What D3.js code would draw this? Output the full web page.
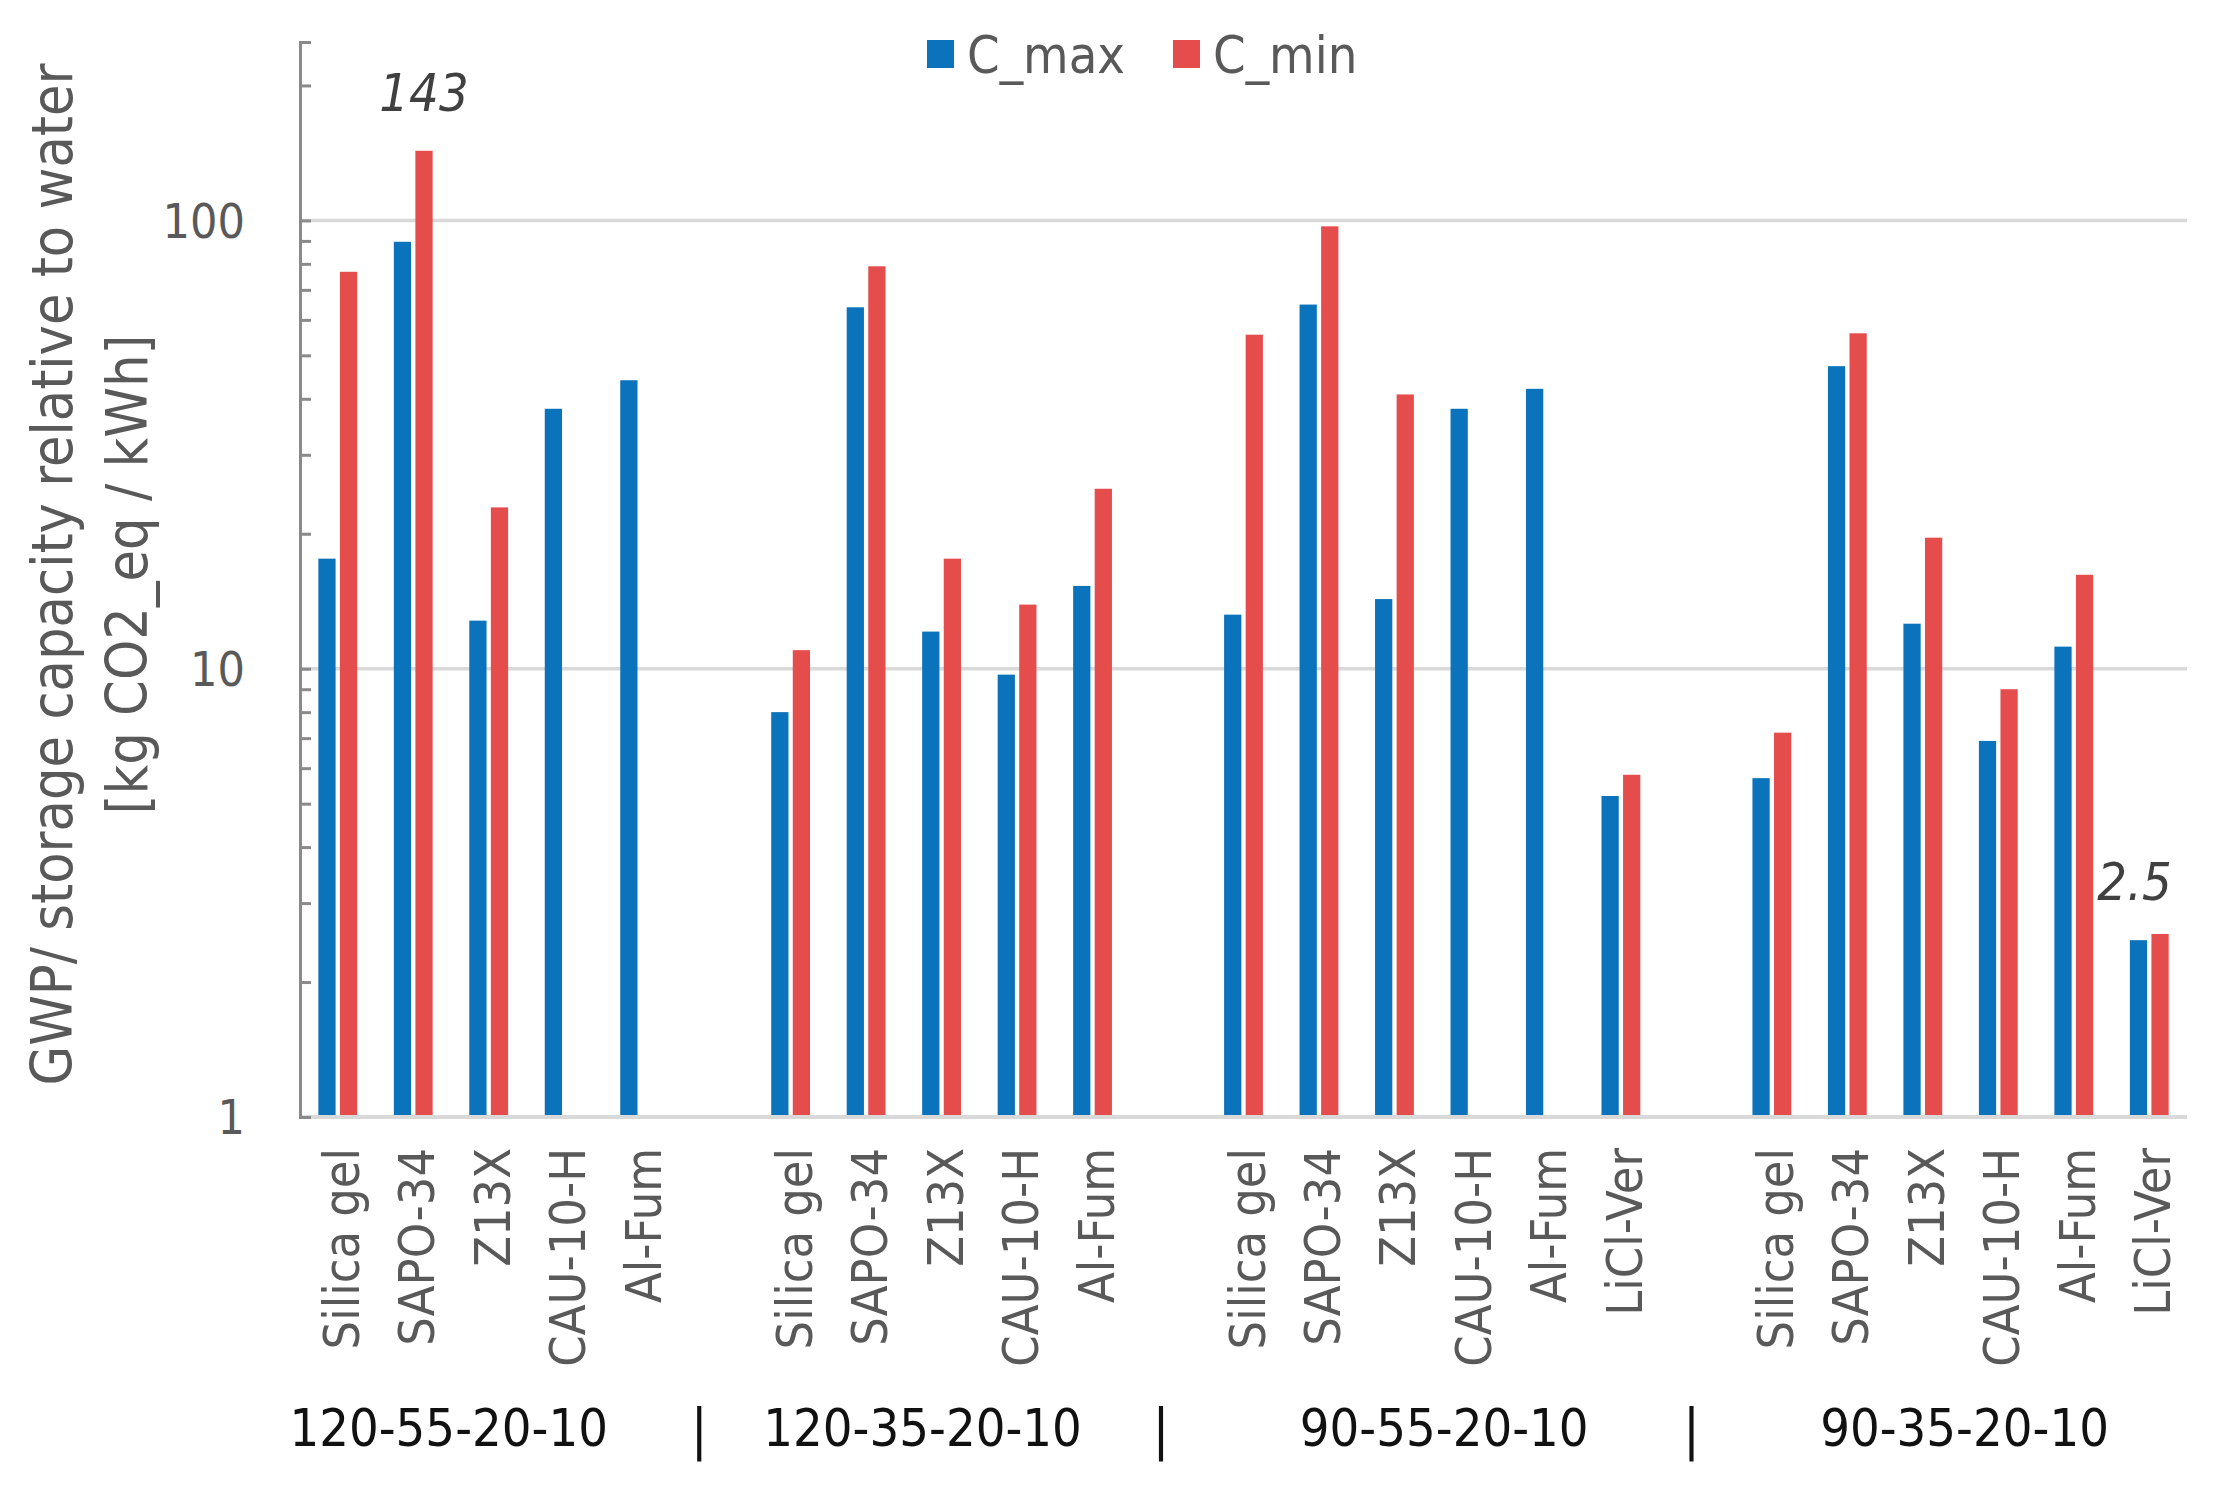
<!DOCTYPE html>
<html>
<head>
<meta charset="utf-8">
<script src="https://cdn.jsdelivr.net/npm/d3@7"></script>
<style>
  html, body { margin: 0; padding: 0; background: #ffffff; }
  svg { display: block; }
  .narrow { font-family: "DejaVu Sans Condensed", "Liberation Sans Narrow", "Arial Narrow", sans-serif; }
</style>
</head>
<body>
<svg id="chart" width="2225" height="1500"></svg>
<script>
// ---------------- data ----------------
const groups = ["120-55-20-10", "120-35-20-10", "90-55-20-10", "90-35-20-10"];
// category slots ("" = empty spacer slot between groups)
const categories = [
  "Silica gel", "SAPO-34", "Z13X", "CAU-10-H", "Al-Fum", "",
  "Silica gel", "SAPO-34", "Z13X", "CAU-10-H", "Al-Fum", "",
  "Silica gel", "SAPO-34", "Z13X", "CAU-10-H", "Al-Fum", "LiCl-Ver", "",
  "Silica gel", "SAPO-34", "Z13X", "CAU-10-H", "Al-Fum", "LiCl-Ver"
];
const groupOfSlot = [0,0,0,0,0,0, 1,1,1,1,1,1, 2,2,2,2,2,2,2, 3,3,3,3,3,3];
const seriesNames = ["C_max", "C_min"];
const cMax = [17.6, 89.6, 12.8, 38, 44, null,
              8.0, 64, 12.1, 9.7, 15.3, null,
              13.2, 64.9, 14.3, 38, 42.1, 5.2, null,
              5.7, 47.3, 12.6, 6.9, 11.2, 2.48];
const cMin = [76.8, 143, 22.9, null, null, null,
              11.0, 79, 17.6, 13.9, 25.2, null,
              55.6, 97, 40.9, null, null, 5.8, null,
              7.2, 56, 19.6, 9.0, 16.2, 2.56];
const majorTicks = [1, 10, 100];
const tickLabels = ["1", "10", "100"];
// highlighted data labels: [series, slot index, text]
const annotations = [["C_min", 1, "143"], ["C_max", 24, "2.5"]];
const yTitle = ["GWP/ storage capacity relative to water", "[kg CO2_eq / kWh]"];
const colors = { "C_max": "#0b73bb", "C_min": "#e54d4d" };

// ---------------- layout ----------------
const svg = d3.select("#chart");
const plot = { left: 300, right: 2187, top: 42, bottom: 1117 };

const x = d3.scaleBand()
  .domain(d3.range(categories.length))
  .range([plot.left, plot.right])
  .padding(0);
const x1 = d3.scaleBand()
  .domain(seriesNames)
  .range([0, x.bandwidth()])
  .paddingInner(0.2)
  .paddingOuter(0.85);
const y = d3.scaleLog()
  .domain([1, 250])
  .range([plot.bottom, plot.top]);

const seriesValues = { "C_max": cMax, "C_min": cMin };

// gridlines
svg.append("g").selectAll("line")
  .data(majorTicks)
  .join("line")
  .attr("x1", plot.left).attr("x2", plot.right)
  .attr("y1", d => y(d)).attr("y2", d => y(d))
  .attr("stroke", "#d9d9d9").attr("stroke-width", 3.5);

// bars
const barData = [];
seriesNames.forEach(s => {
  seriesValues[s].forEach((v, i) => { if (v != null) barData.push({ s, i, v }); });
});
svg.append("g").selectAll("rect")
  .data(barData)
  .join("rect")
  .attr("x", d => x(d.i) + x1(d.s))
  .attr("width", x1.bandwidth())
  .attr("y", d => y(d.v))
  .attr("height", d => y(1) - y(d.v))
  .attr("fill", d => colors[d.s]);

// bottom axis line (value 1)
svg.append("line")
  .attr("x1", plot.left).attr("x2", plot.right)
  .attr("y1", y(1)).attr("y2", y(1))
  .attr("stroke", "#d9d9d9").attr("stroke-width", 4);

// left axis with inward log ticks
const minorTicks = [];
[1, 10, 100].forEach(dec => d3.range(1, 10).forEach(m => {
  const v = dec * m;
  if (v <= 250) minorTicks.push(v);
}));
minorTicks.push(250);
const yAxis = d3.axisRight(y)
  .tickValues(minorTicks)
  .tickSize(11)
  .tickFormat("");
const gAxis = svg.append("g")
  .attr("transform", `translate(${plot.left},0)`)
  .call(yAxis);
gAxis.select(".domain").attr("stroke", "#8a8a8a").attr("stroke-width", 3);
gAxis.selectAll(".tick line").attr("stroke", "#8a8a8a").attr("stroke-width", 3);

// y tick labels
svg.append("g").attr("class", "narrow").selectAll("text")
  .data(majorTicks)
  .join("text")
  .attr("x", plot.left - 55)
  .attr("y", d => y(d))
  .attr("dy", "0.36em")
  .attr("text-anchor", "end")
  .attr("font-size", 48)
  .attr("fill", "#595959")
  .text((d, i) => tickLabels[i]);

// category labels (rotated)
svg.append("g").attr("class", "narrow").selectAll("text")
  .data(categories.map((c, i) => ({ c, i })).filter(d => d.c !== ""))
  .join("text")
  .attr("transform", d => `translate(${x(d.i) + x.bandwidth() / 2},${plot.bottom + 31}) rotate(-90)`)
  .attr("dy", "0.42em")
  .attr("text-anchor", "end")
  .attr("font-size", 50)
  .attr("fill", "#595959")
  .text(d => d.c);

// group labels and separators
const groupCenters = groups.map((g, gi) => {
  const idx = d3.range(categories.length).filter(i => groupOfSlot[i] === gi && categories[i] !== "");
  return (x(idx[0]) + x(idx[idx.length - 1]) + x.bandwidth()) / 2;
});
const groupShift = [-40, -19, 12, 4];
const sepShift = [-16, -7, -5];
const gLabels = svg.append("g").attr("class", "narrow");
gLabels.selectAll("text.grp")
  .data(groups)
  .join("text")
  .attr("class", "grp")
  .attr("x", (d, i) => groupCenters[i] + groupShift[i])
  .attr("y", 1446)
  .attr("text-anchor", "middle")
  .attr("font-size", 52)
  .attr("fill", "#111111")
  .text(d => d);
const sepSlots = d3.range(categories.length).filter(i => categories[i] === "");
gLabels.selectAll("text.sep")
  .data(sepSlots)
  .join("text")
  .attr("class", "sep")
  .attr("x", (d, i) => x(d) + x.bandwidth() / 2 + sepShift[i])
  .attr("y", 1448)
  .attr("text-anchor", "middle")
  .attr("font-size", 56)
  .attr("fill", "#111111")
  .text("|");

// annotations
svg.append("g").attr("class", "narrow").selectAll("text")
  .data(annotations)
  .join("text")
  .attr("x", d => x(d[1]) + x1(d[0]) + x1.bandwidth() / 2 + (d[0] === "C_max" ? -4 : 0))
  .attr("y", d => y(seriesValues[d[0]][d[1]]) - 40)
  .attr("text-anchor", "middle")
  .attr("font-size", 52)
  .attr("font-style", "italic")
  .attr("fill", "#404040")
  .text(d => d[2]);

// y axis title
const yt = svg.append("g").attr("class", "narrow")
  .attr("transform", `translate(0,${(plot.top + plot.bottom) / 2 - 5}) rotate(-90)`);
yt.selectAll("text")
  .data(yTitle)
  .join("text")
  .attr("x", 0)
  .attr("y", (d, i) => 72 + i * 75)
  .attr("text-anchor", "middle")
  .attr("font-size", 57)
  .attr("fill", "#595959")
  .text(d => d);

// legend
const legend = svg.append("g").attr("class", "narrow");
const legendX = [927, 1173];
seriesNames.forEach((s, i) => {
  legend.append("rect")
    .attr("x", legendX[i]).attr("y", 40)
    .attr("width", 27).attr("height", 28)
    .attr("fill", colors[s]);
  legend.append("text")
    .attr("x", legendX[i] + 40).attr("y", 73)
    .attr("font-size", 52)
    .attr("fill", "#595959")
    .text(s);
});
</script>
</body>
</html>
